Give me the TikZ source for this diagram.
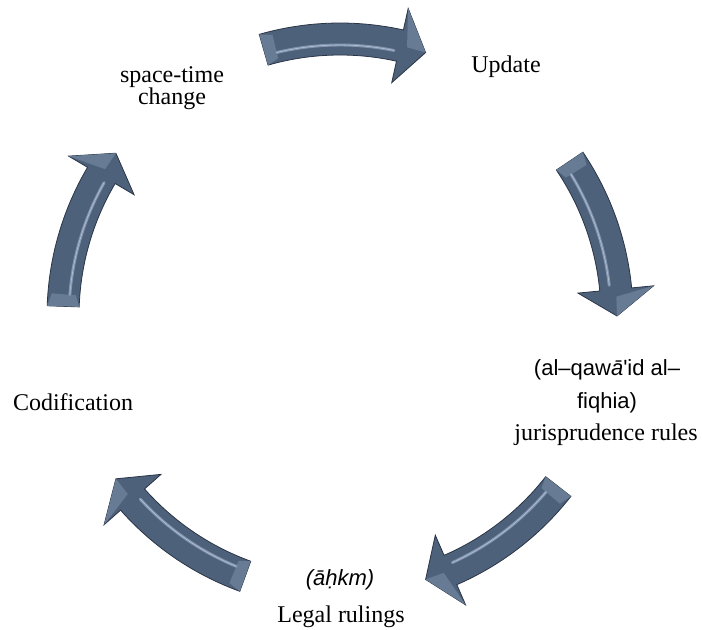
\documentclass[tikz,border=0pt]{standalone}
\usepackage{fontspec}
\setmainfont{Liberation Serif}
\setsansfont{Liberation Sans}
\definecolor{slate}{RGB}{78,97,123}
\definecolor{slatedark}{RGB}{42,53,70}
\definecolor{slatelight}{RGB}{128,148,175}
\definecolor{slatemid}{RGB}{104,123,149}

\tikzset{
  arrowbody/.style={draw=slatedark, fill=slate, line width=0.6pt},
  bevel/.style={draw=slatelight, line width=2.2pt, line cap=round},
  gloss/.style={draw=slatelight!60!white, line width=0.5pt},
  caption/.style={font=\fontsize{18}{16.5}\selectfont, inner sep=0pt, anchor=base},
  translit/.style={font=\sffamily\fontsize{16.5}{20}\selectfont, inner sep=0pt, anchor=base}
}

\begin{document}
\begin{tikzpicture}[x=0.75pt,y=-0.75pt]
  \useasboundingbox (0,0) rectangle (702,630);
  \coordinate (O) at (340,316);

  % the five arrows of the cycle, tail angle of each
  \foreach \a in {-106,-34,38,110,182} {
    \pgfmathsetmacro{\b}{\a+28.5}
    \pgfmathsetmacro{\t}{\a+34}
    \pgfmathsetmacro{\aa}{\a+2.5}
    \pgfmathsetmacro{\bb}{\b-1}
    \pgfmathsetmacro{\bc}{\b+1.5}
    \begin{scope}[shift={(O)}]
      \filldraw[arrowbody]
        plot[domain=\a:\b, samples=24] (\x:293) -- (\b:315) -- (\t:277) -- (\b:239)
        -- plot[domain=\b:\a, samples=24] (\x:261) -- cycle;
      \fill[slatemid] (\b:315) -- (\t:277) -- (\bc:277) -- cycle;
      \fill[slatemid] (\a:261) -- (\a:293) -- (\aa:289) -- (\aa:265) -- cycle;
      \draw[bevel] plot[domain=\aa:\bb, samples=20] (\x:271);
      \draw[gloss] plot[domain=\aa:\bb, samples=20] (\x:271);
    \end{scope}
  }

  % labels
  \node[caption] (update) at (506,73) {Update};
  \node[caption] (spacetime) at (172,83) {space-time};
  \node[caption] (change) at (172,105) {change};
  \node[caption] (codification) at (73,410) {Codification};
  \node[translit] (qawaid) at (607,375) {(al–qaw\textit{ā}\textquotesingle id al–};
  \node[translit] (fiqhia) at (607,408) {fiqhia)};
  \node[caption] (jurisprudence) at (606,440) {jurisprudence rules};
  \node[translit] (ahkm) at (340,585) {\textit{(āḥkm)}};
  \node[caption] (legal) at (341,622) {Legal rulings};
\end{tikzpicture}
\end{document}
